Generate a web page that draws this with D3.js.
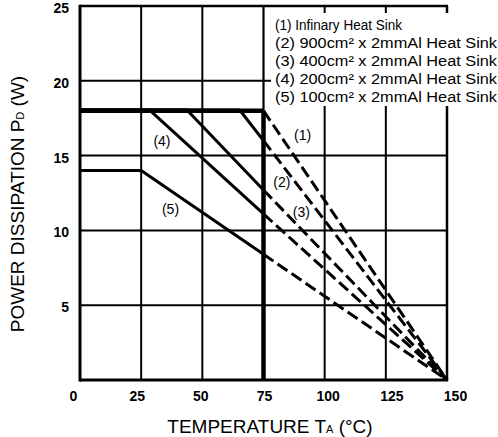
<!DOCTYPE html>
<html><head><meta charset="utf-8">
<script src="https://cdn.jsdelivr.net/npm/d3@7"></script>
<style>body{margin:0;background:#fff}svg{display:block}</style>
</head><body><svg id="c" width="498" height="437"></svg>
<script>
// ---- data ----
const xTickValues = [0, 25, 50, 75, 100, 125, 150];
const yTickValues = [5, 10, 15, 20, 25];
const legendLabels = [
  "(1) Infinary Heat Sink",
  "(2) 900cm\u00B2 x 2mmAl Heat Sink",
  "(3) 400cm\u00B2 x 2mmAl Heat Sink",
  "(4) 200cm\u00B2 x 2mmAl Heat Sink",
  "(5) 100cm\u00B2 x 2mmAl Heat Sink"
];
const curveIds   = ["(1)", "(2)", "(3)", "(4)", "(5)"];
const maxPower   = [18, 18, 18, 18, 14];      // W, flat part
const kneeTemp   = [75, 65.5, 44, 28.7, 25];  // °C where derating starts
const powerAt75  = [18, 16.0, 12.7, 11.1, 8.4]; // W at TA = 75 °C
const zeroTemp   = [150, 150, 150, 150, 150]; // °C where PD = 0
const labelTemp  = [91, 82.5, 90.5, 33.5, 37];
const labelPower = [16.4, 13.2, 11.2, 16.0, 11.4];

// ---- layout ----
const svg = d3.select("#c");
const x = d3.scaleLinear().domain([0, 150]).range([80, 447]);
const y = d3.scaleLinear().domain([0, 25]).range([380, 6]);
const xLab = d3.scaleLinear().domain([0, 150]).range([73, 455]);
const FONT = "'Liberation Sans', Arial, Helvetica, sans-serif";

// gridlines
const g = svg.append("g").attr("stroke", "#000").attr("fill", "none");
[25, 50, 100, 125].forEach(v => g.append("line")
  .attr("x1", x(v)).attr("x2", x(v)).attr("y1", y(0)).attr("y2", y(25)).attr("stroke-width", 2));
g.append("line").attr("x1", x(75)).attr("x2", x(75)).attr("y1", y(18)).attr("y2", y(25)).attr("stroke-width", 2.2);
g.append("line").attr("x1", x(75)).attr("x2", x(75)).attr("y1", y(0)).attr("y2", y(18)).attr("stroke-width", 4.5);
[5, 10, 15, 20].forEach(v => g.append("line")
  .attr("x1", x(0)).attr("x2", x(150)).attr("y1", y(v)).attr("y2", y(v)).attr("stroke-width", 2));
g.append("line").attr("x1", x(150)).attr("x2", x(150)).attr("y1", y(0)).attr("y2", y(25)).attr("stroke-width", 2.5);
g.append("line").attr("x1", x(0)).attr("x2", x(150)+1).attr("y1", y(25)).attr("y2", y(25)).attr("stroke-width", 2.5);

// legend background
const legBg = svg.append("rect").attr("x", 271).attr("y", 13).attr("width", 227).attr("height", 93).attr("fill", "#fff");

// legend text
const leg = svg.append("g").attr("font-family", FONT).attr("font-size", 14).attr("fill", "#000");
const legRowY = d3.scaleLinear().domain([0, 4]).range([30, 102]);
legendLabels.forEach((t, i) => {
  const tx = leg.append("text").attr("x", 275).attr("y", legRowY(i)).text(t)
    .attr("lengthAdjust", "spacingAndGlyphs");
  tx.attr("textLength", i > 0 ? 222 : 127);
});

// curves
const line = d3.line().x(d => x(d[0])).y(d => y(d[1]));
const cg = svg.append("g").attr("fill", "none").attr("stroke", "#000");
curveIds.forEach((id, i) => {
  const flat = [[0, maxPower[i]], [kneeTemp[i], maxPower[i]]];
  cg.append("path").attr("d", line(flat)).attr("stroke-width", i < 4 ? 4.5 : 3);
  if (kneeTemp[i] < 75) {
    cg.append("path").attr("d", line([[kneeTemp[i], maxPower[i]], [75, powerAt75[i]]])).attr("stroke-width", 3);
  }
  cg.append("path").attr("d", line([[75, powerAt75[i]], [zeroTemp[i], 0]]))
    .attr("stroke-width", 3).attr("stroke-dasharray", "12,5");
});

// curve labels
const lg = svg.append("g").attr("font-family", FONT).attr("font-size", 14).attr("fill", "#000")
  .attr("text-anchor", "middle");
curveIds.forEach((id, i) => lg.append("text")
  .attr("x", x(labelTemp[i])).attr("y", y(labelPower[i])).attr("dy", "0.35em").text(id));

// left & bottom frame
svg.append("line").attr("x1", x(0)).attr("x2", x(0)).attr("y1", y(0)+1.5).attr("y2", y(25)-1.2)
  .attr("stroke", "#000").attr("stroke-width", 3);
svg.append("line").attr("x1", x(0)).attr("x2", x(150)+1.2).attr("y1", y(0)).attr("y2", y(0))
  .attr("stroke", "#000").attr("stroke-width", 3);

// axes labels
const yAxis = d3.axisLeft(y).tickValues(yTickValues).tickSize(0).tickPadding(11);
const ya = svg.append("g").attr("transform", `translate(${x(0)},2)`).call(yAxis);
ya.select(".domain").remove();
ya.selectAll("text").attr("font-family", FONT).attr("font-size", 14).attr("font-weight", "bold").attr("fill", "#000");

const xAxis = d3.axisBottom(xLab).tickValues(xTickValues).tickSize(0).tickPadding(11);
const xa = svg.append("g").attr("transform", `translate(0,${y(0)})`).call(xAxis);
xa.select(".domain").remove();
xa.selectAll("text").attr("font-family", FONT).attr("font-size", 14).attr("font-weight", "bold").attr("fill", "#000");

// titles
const xt = svg.append("text").attr("x", 270).attr("y", 433).attr("text-anchor", "middle")
  .attr("font-family", FONT).attr("font-size", 19).attr("fill", "#000");
xt.append("tspan").text("TEMPERATURE T");
xt.append("tspan").attr("font-size", 11).text("A");
xt.append("tspan").text(" (\u00B0C)");

const yt = svg.append("text").attr("transform", "translate(24,204) rotate(-90)").attr("text-anchor", "middle")
  .attr("font-family", FONT).attr("font-size", 19).attr("fill", "#000");
yt.append("tspan").text("POWER DISSIPATION P");
yt.append("tspan").attr("font-size", 11).text("D");
yt.append("tspan").text(" (W)");
</script></body></html>
